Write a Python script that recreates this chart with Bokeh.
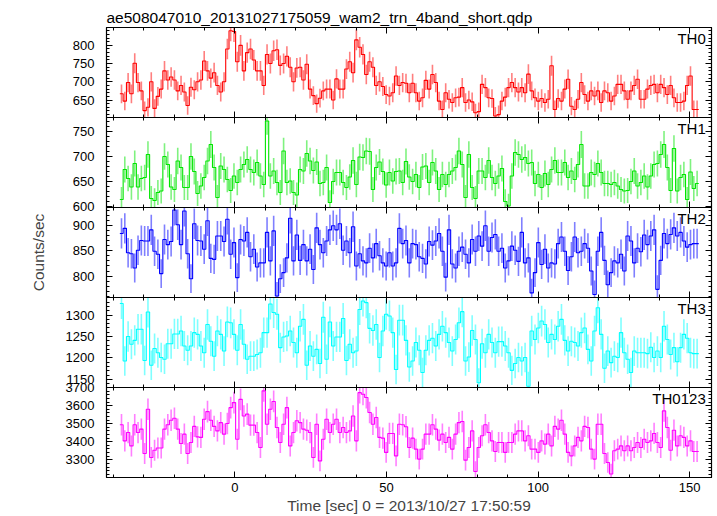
import numpy as np
from bokeh.plotting import figure
from bokeh.layouts import column
from bokeh.models import Range1d, LinearAxis, Label, SingleIntervalTicker, FixedTicker
from bokeh.embed import file_html
from bokeh.resources import INLINE

FONT = "Liberation Sans"

title_text = "ae508047010_20131027175059_wam2_trn_4band_short.qdp"
x_label = "Time [sec] 0 = 2013/10/27 17:50:59"
y_label = "Counts/sec"
band_names = ["TH0", "TH1", "TH2", "TH3", "TH0123"]
band_colors = ["#ff0000", "#00e600", "#0000ff", "#00ffff", "#ff00ff"]
y_limits = [(602, 849), (597, 777), (758, 935), (1131, 1341), (3202, 3700.5)]
y_tick_steps = [50, 50, 50, 50, 100]
x_limits = (-42.3, 157.2)
x_tick_step = 50
t_start, t_stop = -37.9, 153.0

th0 = [667, 647, 698, 667, 751, 698, 675, 621,
       630, 700, 627, 660, 680, 730, 705, 713, 705, 675,
       690, 672, 635, 685, 678, 700, 705, 757, 730, 710,
       725, 690, 672, 700, 790, 840, 838, 755, 800, 730,
       780, 790, 760, 730, 730, 690, 775, 750, 785, 788,
       745, 750, 770, 740, 700, 738, 740, 705, 748, 680,
       662, 640, 655, 675, 680, 680, 650, 708, 680, 680,
       735, 755, 725, 815, 795, 775, 720, 755, 740, 690,
       700,
       687, 665, 661, 670, 716, 690, 698, 696, 670, 696,
       670, 647, 656, 704, 680, 720, 698, 647, 624, 670,
       652, 643, 656, 658, 684, 643, 650, 645, 615, 618,
       693, 684, 656, 654, 606, 610, 647, 658, 684, 698,
       684, 672, 684, 670, 721, 675, 656, 647, 654, 643,
       652, 744, 624, 654, 647, 680, 707, 633, 624, 652,
       698, 665, 647, 675, 661, 675, 643, 675, 670, 647,
       661, 693, 693, 675, 652, 675, 690, 707, 652, 652,
       680, 690, 693, 670, 693, 684, 665, 690, 656, 643,
       643, 647, 690, 716, 624, 624]

th1 = [613, 673, 655, 638, 685, 638, 655, 657,
       703, 615, 611, 627, 630, 699, 683, 638, 633, 690,
       677, 637, 637, 699, 669, 625, 640, 657, 690, 723,
       677, 617, 680, 673, 653, 631, 660, 647, 673, 683,
       693, 673, 667, 687, 660, 643, 770, 660, 670, 647,
       627, 710, 647, 650, 627, 622, 673, 670, 705, 690,
       671, 688, 645, 647, 677, 607, 649, 667, 667, 647,
       637, 658, 691, 643, 698, 697, 710, 709, 633, 677,
       688,
       669, 642, 667, 650, 669, 670, 647, 689, 658, 649,
       663, 637, 678, 680, 647, 687, 670, 633, 663, 643,
       663, 670, 677, 710, 683, 617, 703, 637, 615, 670,
       670, 657, 691, 657, 645, 660, 675, 609, 600, 660,
       707, 703, 693, 697, 685, 687, 645, 663, 637, 665,
       643, 673, 691, 667, 667, 687, 657, 670, 653, 683,
       723, 640, 640, 667, 663, 685, 667, 645, 645, 643,
       647, 640, 633, 630, 631, 649, 670, 640, 647, 660,
       638, 660, 683, 685, 703, 723, 677, 631, 715, 630,
       657, 663, 613, 668, 635, 645]

th2 = [884, 894, 846, 844, 816, 851, 870, 869,
       869, 891, 849, 843, 805, 872, 862, 868, 930, 901,
       862, 928, 844, 795, 903, 870, 869, 853, 909, 835,
       833, 879, 879, 868, 912, 843, 866, 797, 872, 869,
       886, 838, 853, 818, 826, 826, 886, 830, 889, 761,
       795, 807, 836, 914, 830, 881, 831, 862, 830, 853,
       813, 895, 862, 846, 869, 891, 899, 891, 903, 851,
       869, 846, 897, 820, 844, 830, 826, 855, 836, 864,
       840,
       826, 820, 846, 820, 826, 894, 864, 870, 826, 864,
       862, 838, 835, 824, 868, 861, 869, 884, 849, 798,
       891, 824, 816, 849, 857, 843, 826, 872, 849, 879,
       859, 899, 849, 876, 882, 849, 855, 816, 830, 859,
       851, 829, 886, 826, 836, 767, 807, 866, 823, 853,
       816, 826, 824, 864, 877, 849, 811, 838, 877, 846,
       849, 864, 855, 810, 764, 849, 886, 831, 783, 807,
       830, 826, 843, 810, 879, 869, 826, 855, 848, 881,
       862, 879, 891, 774, 831, 884, 864, 882, 895, 879,
       886, 869, 857, 862, 864, 864]

th3 = [1327, 1193, 1250, 1232, 1241, 1267, 1267, 1194,
       1307, 1183, 1222, 1212, 1201, 1197, 1233, 1233, 1256, 1256,
       1263, 1228, 1218, 1228, 1259, 1255, 1228, 1212, 1278, 1239,
       1204, 1263, 1255, 1216, 1284, 1282, 1255, 1218, 1278, 1232,
       1197, 1204, 1204, 1208, 1212, 1259, 1259, 1326, 1306, 1302,
       1224, 1249, 1251, 1263, 1236, 1212, 1274, 1290, 1183, 1228,
       1204, 1220, 1187, 1295, 1197, 1284, 1228, 1249, 1249, 1292,
       1194, 1232, 1212, 1216, 1313, 1333, 1329, 1269, 1264, 1278,
       1201,
       1263, 1302, 1298, 1259, 1173, 1288, 1288, 1241, 1179, 1193,
       1236, 1218, 1166, 1218, 1241, 1246, 1228, 1255, 1274, 1259,
       1236, 1216, 1243, 1282, 1308, 1193, 1202, 1264, 1243, 1142,
       1233, 1212, 1255, 1236, 1212, 1238, 1238, 1228, 1212, 1171,
       1187, 1201, 1193, 1201, 1134, 1263, 1243, 1270, 1286, 1278,
       1236, 1255, 1243, 1274, 1290, 1241, 1216, 1239, 1236, 1228,
       1259, 1270, 1220, 1193, 1263, 1317, 1255, 1176, 1216, 1189,
       1204, 1201, 1259, 1212, 1197, 1166, 1216, 1212, 1212, 1212,
       1210, 1225, 1201, 1216, 1201, 1274, 1243, 1208, 1224, 1191,
       1224, 1255, 1246, 1212, 1210, 1210]

th0123 = [3494, 3405, 3451, 3377, 3494, 3451, 3470,
          3335, 3580, 3313, 3353, 3365, 3365, 3470, 3494, 3519, 3530,
          3470, 3390, 3442, 3335, 3396, 3485, 3427, 3424, 3525, 3567,
          3519, 3485, 3460, 3506, 3442, 3501, 3589, 3617, 3414, 3635,
          3543, 3553, 3492, 3492, 3451, 3368, 3682, 3497, 3580, 3623,
          3479, 3396, 3497, 3589, 3377, 3451, 3516, 3506, 3470, 3464,
          3451, 3313, 3497, 3294, 3414, 3525, 3451, 3497, 3525, 3451,
          3479, 3451, 3460, 3543, 3405, 3672, 3663, 3645, 3562, 3497,
          3534, 3424,
          3420, 3341, 3446, 3446, 3322, 3497, 3494, 3483, 3368, 3420,
          3359, 3304, 3359, 3442, 3442, 3494, 3470, 3409, 3442, 3396,
          3424, 3359, 3442, 3506, 3512, 3298, 3368, 3460, 3235, 3368,
          3433, 3494, 3451, 3405, 3346, 3396, 3396, 3341, 3396, 3396,
          3442, 3460, 3460, 3405, 3433, 3359, 3359, 3341, 3405, 3387,
          3442, 3377, 3485, 3470, 3519, 3442, 3341, 3322, 3377, 3424,
          3405, 3485, 3479, 3359, 3304, 3497, 3497, 3335, 3285, 3221,
          3350, 3359, 3377, 3350, 3377, 3350, 3368, 3396, 3368, 3414,
          3396, 3405, 3446, 3396, 3368, 3571, 3479, 3353, 3464, 3377,
          3433, 3424, 3377, 3405, 3346, 3346]

series = [th0, th1, th2, th3, th0123]

n = len(th0)
edges = np.linspace(t_start, t_stop, n + 1)
centers = 0.5 * (edges[:-1] + edges[1:])
stair_x = np.repeat(edges, 2)[1:-1]

MAJOR_IN, MINOR_IN = 6, 3


def labelled_axis(ticker):
    ax = LinearAxis(ticker=ticker)
    ax.major_tick_in = MAJOR_IN
    ax.major_tick_out = 0
    ax.minor_tick_in = MINOR_IN
    ax.minor_tick_out = 0
    ax.axis_line_color = "black"
    ax.major_tick_line_color = "black"
    ax.minor_tick_line_color = "black"
    ax.major_label_text_font = FONT
    ax.major_label_text_font_size = "13px"
    ax.major_label_text_color = "black"
    return ax


def bare_axes(lo, hi, step):
    # tick marks only, no labels: long marks at major steps, short ones between
    first = np.floor(lo / step) * step
    majors = list(np.arange(first, hi + step, step))
    minors = list(np.arange(first, hi + step, step / 5))
    out = []
    for pos, length in ((majors, MAJOR_IN), (minors, MINOR_IN)):
        ax = LinearAxis(ticker=FixedTicker(ticks=[], minor_ticks=pos))
        ax.major_tick_in = 0
        ax.major_tick_out = 0
        ax.minor_tick_in = length
        ax.minor_tick_out = 0
        ax.axis_line_color = "black"
        ax.minor_tick_line_color = "black"
        ax.major_label_standoff = 0
        out.append(ax)
    return out


PAD = 10
figs = []
x_range = Range1d(*x_limits)
for i, (name, color, vals) in enumerate(zip(band_names, band_colors, series)):
    vals = np.array(vals, dtype=float)
    err = np.sqrt(vals)
    top = 27 if i == 0 else PAD
    bottom = 39 if i == 4 else PAD
    lo, hi = y_limits[i]
    p = figure(width=717, height=90 + top + bottom,
               x_range=x_range, y_range=Range1d(lo, hi),
               output_backend="svg", toolbar_location=None,
               x_axis_location=None, y_axis_location=None,
               min_border_left=106, min_border_right=6,
               min_border_top=top, min_border_bottom=bottom,
               margin=(0 if i == 0 else -2 * PAD, 0, 0, 0))
    p.grid.visible = False
    p.outline_line_color = "black"
    p.outline_line_width = 1.2
    p.background_fill_color = None
    p.border_fill_color = None

    if i == 4:
        ax_b = labelled_axis(SingleIntervalTicker(interval=x_tick_step, num_minor_ticks=5))
        ax_b.major_label_standoff = 5
        ax_b.axis_label = x_label
        ax_b.axis_label_text_font = FONT
        ax_b.axis_label_text_font_size = "15.5px"
        ax_b.axis_label_text_font_style = "normal"
        ax_b.axis_label_standoff = 2
        p.add_layout(ax_b, "below")
    else:
        for ax in bare_axes(*x_limits, x_tick_step):
            p.add_layout(ax, "below")
    for ax in bare_axes(*x_limits, x_tick_step):
        p.add_layout(ax, "above")

    ax_l = labelled_axis(SingleIntervalTicker(interval=y_tick_steps[i], num_minor_ticks=5))
    ax_l.major_label_standoff = 12
    if i == 2:
        ax_l.axis_label = y_label
        ax_l.axis_label_text_font = FONT
        ax_l.axis_label_text_font_size = "15.5px"
        ax_l.axis_label_text_font_style = "normal"
        ax_l.axis_label_standoff = 23
    p.add_layout(ax_l, "left")
    for ax in bare_axes(lo, hi, y_tick_steps[i]):
        p.add_layout(ax, "right")

    if i == 0:
        p.title.text = title_text
        p.title.text_font = FONT
        p.title.text_font_size = "15.5px"
        p.title.text_font_style = "normal"
        p.title.text_color = "black"
        p.title.align = "left"
        p.title.standoff = 4

    p.segment(x0=centers, y0=vals - err, x1=centers, y1=vals + err,
              line_color=color, line_alpha=0.5, line_width=1.6)
    p.line(x=stair_x, y=np.repeat(vals, 2), line_color=color, line_width=1.1)

    p.add_layout(Label(x=155.3, y=hi - (hi - lo) * 2.5 / 90, text=name,
                       text_align="right", text_baseline="top",
                       text_font=FONT, text_font_size="15px", text_color="black"))
    figs.append(p)

layout = column(*figs, spacing=0)
open("out.html", "w").write(file_html(layout, INLINE))
